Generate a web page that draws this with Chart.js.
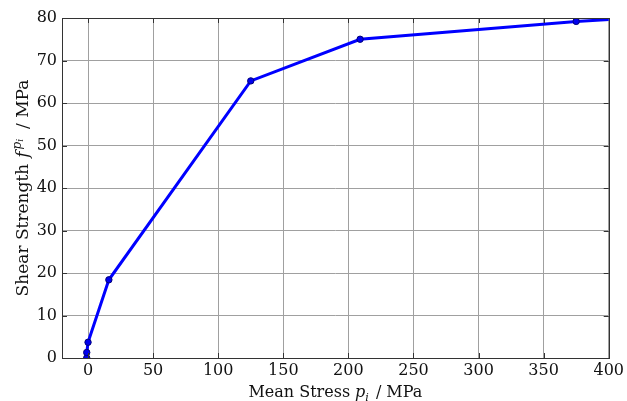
<!DOCTYPE html>
<html>
<head>
<meta charset="utf-8">
<script src="https://cdn.jsdelivr.net/npm/chart.js@4/dist/chart.umd.min.js"></script>
<style>
html,body{margin:0;padding:0;background:#fff;}
#wrap{width:627px;height:401px;position:relative;}
</style>
</head>
<body>
<div id="wrap"><canvas id="c" width="627" height="401"></canvas></div>
<script>
// Data
const meanStress = [-1, -1, 0, 16, 125, 209, 375, 500];
const shearStrength = [0, 1.3, 3.7, 18.4, 65.2, 75.0, 79.2, 81.3];
const xTicks = [0, 50, 100, 150, 200, 250, 300, 350, 400];
const yTicks = [0, 10, 20, 30, 40, 50, 60, 70, 80];
const xTitle = [
  {t: 'Mean Stress', it: false},
  {t: 'p', it: true, gap: 5},
  {t: 'i', it: true, scale: 0.7, dy: 4},
  {t: '/ MPa', it: false, gap: 7}
];
const yTitle = [
  {t: 'Shear Strength', it: false},
  {t: 'f', it: true, gap: 6},
  {t: 'p', it: true, scale: 0.7, dy: -7, gap: 2},
  {t: 'i', it: true, scale: 0.5, dy: -5},
  {t: '/ MPa', it: false, gap: 10}
];

const FONT = "'DejaVu Serif', serif";
const FS = 16;

function drawRich(ctx, segs, x, y, fs) {
  const font = s => (s.it ? 'italic ' : '') + Math.round(fs * (s.scale || 1)) + 'px ' + FONT;
  let w = 0;
  segs.forEach(s => { ctx.font = font(s); w += ctx.measureText(s.t).width + (s.gap || 0); });
  let cx = x - w / 2;
  ctx.textAlign = 'left';
  ctx.textBaseline = 'alphabetic';
  segs.forEach(s => {
    ctx.font = font(s);
    cx += (s.gap || 0);
    ctx.fillText(s.t, cx, y + (s.dy || 0));
    cx += ctx.measureText(s.t).width;
  });
}

const framePlugin = {
  id: 'frame',
  afterDraw(chart) {
    const ctx = chart.ctx;
    const a = chart.chartArea;
    const xs = chart.scales.x, ys = chart.scales.y;
    ctx.save();
    ctx.strokeStyle = '#333';
    ctx.lineWidth = 1;
    ctx.strokeRect(Math.round(a.left) + 0.5, Math.round(a.top) + 0.5,
                   Math.round(a.right - a.left), Math.round(a.bottom - a.top));
    const L = 5;
    ctx.beginPath();
    xTicks.forEach(v => {
      const px = Math.round(xs.getPixelForValue(v)) + 0.5;
      ctx.moveTo(px, a.bottom); ctx.lineTo(px, a.bottom - L);
      ctx.moveTo(px, a.top); ctx.lineTo(px, a.top + L);
    });
    yTicks.forEach(v => {
      const py = Math.round(ys.getPixelForValue(v)) + 0.5;
      ctx.moveTo(a.left, py); ctx.lineTo(a.left + L, py);
      ctx.moveTo(a.right, py); ctx.lineTo(a.right - L, py);
    });
    ctx.stroke();
    ctx.fillStyle = '#111';
    drawRich(ctx, xTitle, (a.left + a.right) / 2, 397, FS);
    ctx.translate(28, (a.top + a.bottom) / 2);
    ctx.rotate(-Math.PI / 2);
    drawRich(ctx, yTitle, 0, 0, 17);
    ctx.restore();
  }
};

new Chart(document.getElementById('c'), {
  type: 'scatter',
  data: {
    datasets: [{
      data: meanStress.map((x, i) => ({x: x, y: shearStrength[i]})),
      showLine: true,
      borderColor: '#0000ff',
      borderWidth: 3,
      pointRadius: 3.2,
      pointBackgroundColor: '#0000ee',
      pointBorderColor: '#00007a',
      pointBorderWidth: 1,
      tension: 0
    }]
  },
  options: {
    responsive: false,
    animation: false,
    devicePixelRatio: 1,
    layout: {padding: {left: 0, right: 15, top: 18, bottom: 0}},
    plugins: {legend: {display: false}, tooltip: {enabled: false}},
    scales: {
      x: {
        type: 'linear', min: -20, max: 400,
        afterBuildTicks: s => { s.ticks = xTicks.map(v => ({value: v})); },
        afterFit: s => { s.height = 43; },
        grid: {color: '#a0a0a0', lineWidth: 1, drawTicks: false},
        border: {display: false},
        ticks: {color: '#111', padding: 3, font: {family: FONT, size: FS}, maxRotation: 0, autoSkip: false}
      },
      y: {
        type: 'linear', min: 0, max: 80,
        afterBuildTicks: s => { s.ticks = yTicks.map(v => ({value: v})); },
        afterFit: s => { s.width = 62; },
        grid: {color: '#a0a0a0', lineWidth: 1, drawTicks: false},
        border: {display: false},
        ticks: {color: '#111', padding: 5, font: {family: FONT, size: FS}, autoSkip: false}
      }
    }
  },
  plugins: [framePlugin]
});
</script>
</body>
</html>
